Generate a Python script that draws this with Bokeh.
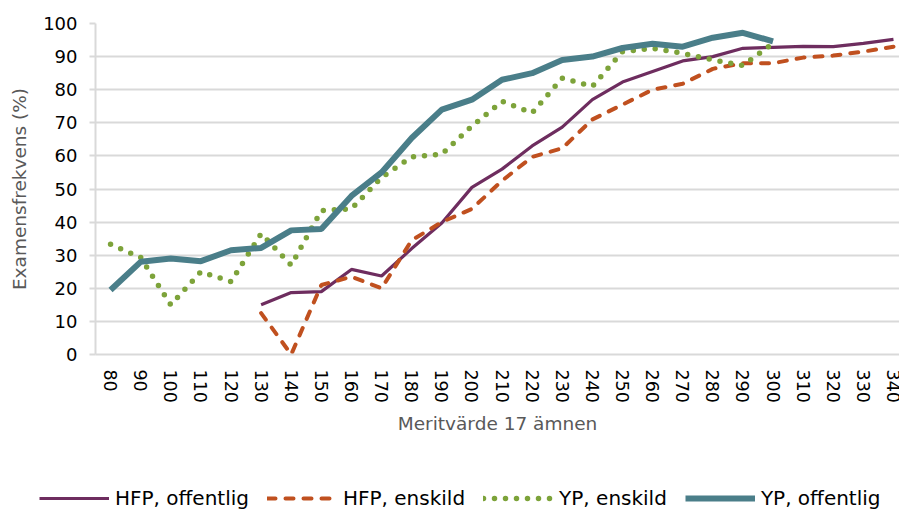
from bokeh.plotting import figure
from bokeh.models import Range1d, FixedTicker, Legend, LegendItem
from bokeh.embed import file_html
from bokeh.resources import INLINE

nan = float("nan")

meritvarde = [80, 90, 100, 110, 120, 130, 140, 150, 160, 170, 180, 190, 200, 210,
              220, 230, 240, 250, 260, 270, 280, 290, 300, 310, 320, 330, 340]

hfp_offentlig = [nan, nan, nan, nan, nan, 15.0, 18.7, 19.0, 25.7, 23.7, 32.0, 39.7, 50.5,
                 56.0, 63.0, 68.7, 77.0, 82.3, 85.5, 88.7, 90.0, 92.5, 92.8, 93.1, 93.0,
                 94.0, 95.2]
hfp_enskild = [nan, nan, nan, nan, nan, 12.5, 0.0, 21.0, 23.5, 20.0, 34.5, 40.0, 44.0,
               52.5, 59.7, 62.3, 71.0, 75.5, 80.0, 81.8, 86.3, 88.0, 88.0, 89.7, 90.3,
               91.5, 93.0]
yp_enskild = [33.3, 29.3, 15.0, 25.0, 22.0, 36.5, 27.0, 43.5, 44.0, 53.5, 59.7, 60.5, 69.0,
              76.5, 73.0, 83.5, 81.0, 91.5, 92.5, 91.0, 89.0, 87.3, 94.0, nan, nan, nan, nan]
yp_offentlig = [19.5, 28.0, 29.0, 28.2, 31.5, 32.2, 37.5, 37.9, 47.9, 55.0, 65.4, 74.0, 77.0,
                83.0, 85.0, 89.0, 90.0, 92.6, 93.9, 93.0, 95.7, 97.2, 94.6, nan, nan, nan, nan]

series_labels = ["HFP, offentlig", "HFP, enskild", "YP, enskild", "YP, offentlig"]
y_ticks = [0, 10, 20, 30, 40, 50, 60, 70, 80, 90, 100]

FONT = "DejaVu Sans"
styles = [
    dict(line_color="#6E2D5F", line_width=3.2),
    dict(line_color="#C0501F", line_width=4, line_dash="8 10", line_cap="round"),
    dict(line_color="#7DA33A", line_width=5.5, line_dash="0 11", line_cap="round"),
    dict(line_color="#4A7E89", line_width=6),
]
series = [hfp_offentlig, hfp_enskild, yp_enskild, yp_offentlig]

LEG_H = 44

p = figure(width=899, height=510 - LEG_H, output_backend="svg", toolbar_location=None,
           x_range=Range1d(75, 342), y_range=Range1d(0, 100),
           min_border_left=95, min_border_right=0, min_border_top=23,
           min_border_bottom=510 - LEG_H - 23 - 331)
p.outline_line_color = None
p.background_fill_color = "white"

for vals, st in zip(series, styles):
    p.line(meritvarde, vals, **st)

# grid
p.xgrid.visible = False
p.ygrid.grid_line_color = "#D9D9D9"
p.ygrid.grid_line_width = 2
p.ygrid.ticker = FixedTicker(ticks=y_ticks)

# x axis
xa = p.xaxis[0]
xa.ticker = FixedTicker(ticks=meritvarde)
xa.major_label_orientation = "vertical"
xa.major_tick_out = 0
xa.major_tick_in = 0
xa.minor_tick_out = 0
xa.minor_tick_in = 0
xa.major_label_standoff = 15
xa.axis_line_color = "#D9D9D9"
xa.axis_line_width = 2
xa.major_label_text_font = FONT
xa.major_label_text_font_size = "17.5px"
xa.major_label_text_color = "#000000"
xa.axis_label = "Meritvärde 17 ämnen"
xa.axis_label_text_font = FONT
xa.axis_label_text_font_size = "18.5px"
xa.axis_label_text_font_style = "normal"
xa.axis_label_text_color = "#595959"
xa.axis_label_standoff = 7

# y axis
ya = p.yaxis[0]
ya.ticker = FixedTicker(ticks=y_ticks)
ya.major_tick_out = 6
ya.major_tick_in = 0
ya.minor_tick_out = 0
ya.minor_tick_in = 0
ya.major_tick_line_color = "#D9D9D9"
ya.major_tick_line_width = 2
ya.major_label_standoff = 12
ya.axis_line_color = "#D9D9D9"
ya.axis_line_width = 2
ya.major_label_text_font = FONT
ya.major_label_text_font_size = "18px"
ya.major_label_text_color = "#000000"
ya.axis_label = "Examensfrekvens (%)"
ya.axis_label_text_font = FONT
ya.axis_label_text_font_size = "18.5px"
ya.axis_label_text_font_style = "normal"
ya.axis_label_text_color = "#595959"
ya.axis_label_standoff = 10

# legend strip: a separate root below the chart; its lines lie outside its view
pl = figure(width=899, height=LEG_H, output_backend="svg", toolbar_location=None,
            x_range=Range1d(0, 1), y_range=Range1d(0, 1),
            min_border_left=0, min_border_right=0, min_border_top=0, min_border_bottom=0)
pl.axis.visible = False
pl.grid.visible = False
pl.outline_line_color = None
leg_renderers = [pl.line(meritvarde, vals, **st) for vals, st in zip(series, styles)]

legend = Legend(
    items=[LegendItem(label=lab, renderers=[r]) for lab, r in zip(series_labels, leg_renderers)],
    orientation="horizontal", location=(39, 0),
    glyph_width=70, glyph_height=20, label_standoff=6, spacing=18,
    padding=0, margin=0, border_line_alpha=0, background_fill_alpha=0,
    label_text_font=FONT, label_text_font_size="20px", label_text_color="#000000",
)
pl.add_layout(legend)

open("out.html", "w").write(file_html([p, pl], INLINE))
